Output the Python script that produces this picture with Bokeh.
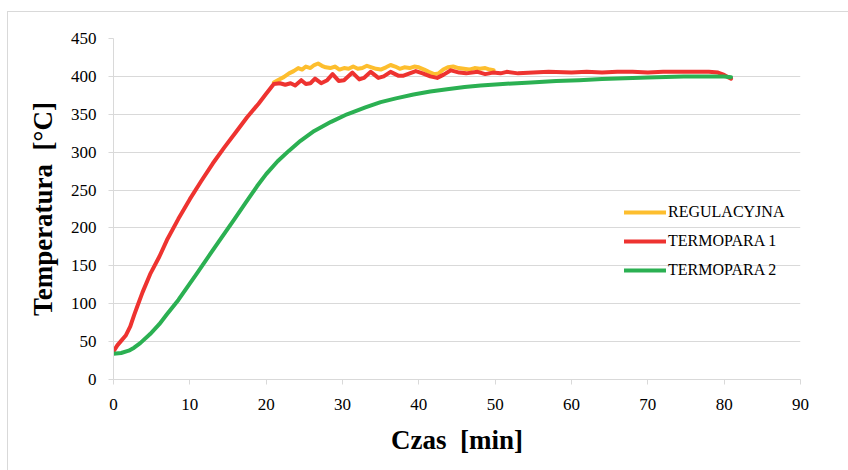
from bokeh.plotting import figure
from bokeh.models import Range1d, FixedTicker, Legend, LegendItem
from bokeh.embed import file_html
from bokeh.resources import INLINE

# ---- data ----
x_ticks = [0, 10, 20, 30, 40, 50, 60, 70, 80, 90]
y_ticks = [0, 50, 100, 150, 200, 250, 300, 350, 400, 450]

reg_t = [21, 21.7, 22.3, 23, 23.6, 24.2, 24.7, 25.2, 25.8, 26.3, 26.8, 27.3, 27.8, 28.4,
         29, 29.6, 30.2, 30.8, 31.4, 32, 32.6, 33.2, 33.8, 34.4, 35, 35.7, 36.3, 36.9,
         37.5, 38.1, 38.8, 39.4, 40, 40.7, 41.3, 42, 42.6, 43.2, 43.8, 44.5, 45.2, 45.9,
         46.6, 47.3, 48, 48.7, 49.3, 49.8]
reg_T = [392, 396, 399, 404, 407, 411, 409, 413, 411, 415, 417, 414, 412, 411,
         413, 409, 411, 410, 413, 410, 411, 414, 412, 410, 409, 412, 415, 413,
         410, 412, 411, 413, 412, 409, 406, 403, 404, 409, 412, 413, 411, 410,
         409, 411, 410, 411, 409, 408]

t1_t = [0, 0.5, 1, 1.6, 2.2, 2.7, 3.1, 3.8, 4.8, 6, 7, 8.5, 10, 11.5, 13, 14.5, 16, 17.5,
        19, 20, 21, 21.8, 22.5, 23.2, 23.8, 24.6, 25.2, 25.8, 26.4, 27.2, 28, 28.7, 29.5,
        30.2, 31.3, 32.2, 32.8, 33.7, 34.7, 35.4, 36.3, 37.3, 38, 39.6, 40.5, 41.5, 42.4,
        43.2, 44.2, 45.3, 46.2, 47.7, 48.7, 49.7, 50.7, 51.5, 53, 55, 57, 60, 62, 64, 66,
        68, 70, 72, 74, 76, 78, 79.2, 80, 80.5, 80.9]
t1_T = [37, 45, 51, 58, 70, 85, 96, 115, 139, 162, 184, 212, 238, 262, 285, 306, 326, 346,
        364, 377, 390, 391, 389, 391, 388, 395, 390, 391, 397, 391, 395, 403, 394,
        395, 405, 396, 398, 406, 398, 400, 406, 401, 401, 407, 404, 400, 398,
        402, 408, 405, 404, 406, 403, 405, 404, 406, 404, 405, 406, 405, 406, 405, 406,
        406, 405, 406, 406, 406, 406, 405, 402, 399, 397]

t2_t = [0, 1, 2, 2.7, 3.5, 4.8, 6, 7, 8.5, 9.6, 11, 12.7, 14.2, 15.8, 17.3, 18.8, 20, 21.5,
        23, 24.5, 26.3, 28.5, 30.6, 33, 35, 37, 39.3, 41.5, 43.7, 46, 48.1, 51, 54.7, 58,
        61, 64, 67, 70, 74.7, 78, 80, 80.9]
t2_T = [34, 35, 38, 42, 48, 60, 73, 86, 105, 121, 141, 166, 188, 211, 233, 255, 271, 288,
        302, 315, 328, 340, 350, 359, 366, 371, 376, 380, 383, 386, 388, 390, 392, 394,
        395, 396.5, 397.5, 398.5, 400, 400, 400, 399]

series_names = ["REGULACYJNA", "TERMOPARA 1", "TERMOPARA 2"]
series_colors = ["#FDBE2E", "#EE3330", "#2BB052"]

FONT = "Liberation Serif"
GRID = "#d9d9d9"

p = figure(width=841, height=459, output_backend="svg", toolbar_location=None,
           x_range=Range1d(0, 90), y_range=Range1d(0, 450),
           min_border_left=105, min_border_right=49, min_border_top=26, min_border_bottom=92)
p.styles = {"margin-left": "7px", "margin-top": "11px",
            "border-top": "1px solid #d9d9d9", "border-left": "1px solid #d9d9d9"}
p.outline_line_color = None
p.background_fill_color = "white"
p.border_fill_color = "white"

r0 = p.line(reg_t, reg_T, line_color=series_colors[0], line_width=4, line_join="round", line_cap="round")
r1 = p.line(t1_t, t1_T, line_color=series_colors[1], line_width=4, line_join="round", line_cap="round")
r2 = p.line(t2_t, t2_T, line_color=series_colors[2], line_width=4, line_join="round", line_cap="round")

p.xgrid.grid_line_color = None
p.ygrid.grid_line_color = GRID
p.ygrid.grid_line_width = 1

p.xaxis.ticker = FixedTicker(ticks=x_ticks)
p.yaxis.ticker = FixedTicker(ticks=y_ticks)
for ax in (p.xaxis[0], p.yaxis[0]):
    ax.axis_line_color = GRID
    ax.major_tick_line_color = GRID
    ax.major_tick_out = 5
    ax.major_tick_in = 0
    ax.minor_tick_line_color = None
    ax.major_label_text_font = FONT
    ax.major_label_text_font_size = "17px"
    ax.major_label_text_color = "black"
    ax.axis_label_text_font = FONT
    ax.axis_label_text_font_size = "27px"
    ax.axis_label_text_font_style = "bold"
    ax.axis_label_text_color = "black"

p.xaxis.axis_label = "Czas\u00a0 [min]"
p.yaxis.axis_label = "Temperatura\u00a0 [°C]"
p.xaxis.major_label_standoff = 14
p.yaxis.major_label_standoff = 12
p.xaxis.axis_label_standoff = 12
p.yaxis.axis_label_standoff = 10

legend = Legend(items=[LegendItem(label=series_names[0], renderers=[r0]),
                       LegendItem(label=series_names[1], renderers=[r1]),
                       LegendItem(label=series_names[2], renderers=[r2])],
                location=(511, 99), border_line_color=None, background_fill_alpha=0,
                padding=0, margin=0, glyph_width=42, glyph_height=20, label_height=20,
                label_standoff=2, spacing=9, label_text_font=FONT,
                label_text_font_size="16px", label_text_color="black")
p.add_layout(legend)

open("out.html", "w").write(file_html(p, INLINE))
